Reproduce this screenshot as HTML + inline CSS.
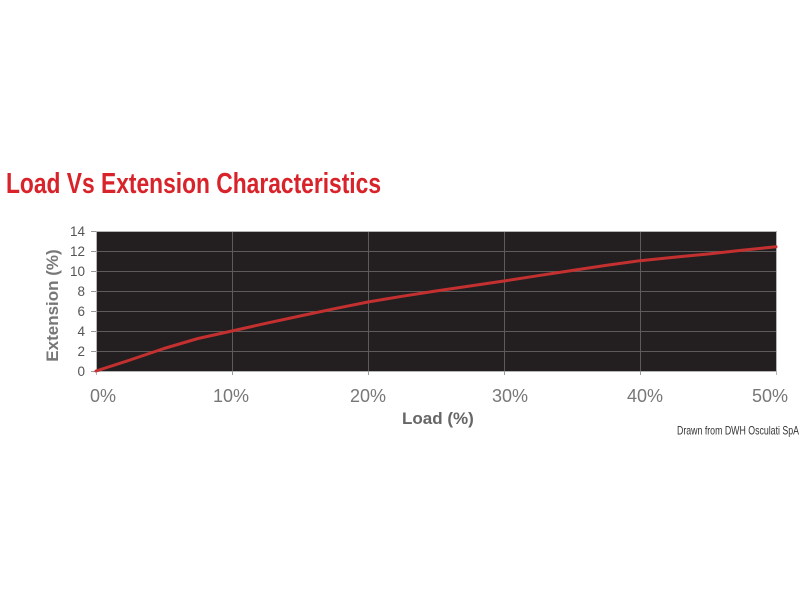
<!DOCTYPE html>
<html>
<head>
<meta charset="utf-8">
<style>
html,body{margin:0;padding:0;background:#fff;}
svg{display:block;}
text{font-family:"Liberation Sans",Arial,sans-serif;}
</style>
</head>
<body>
<svg width="800" height="600" viewBox="0 0 800 600" xmlns="http://www.w3.org/2000/svg">
<rect width="800" height="600" fill="#ffffff"/>
<text x="6" y="193" font-size="29" font-weight="bold" fill="#d9232b" textLength="375" lengthAdjust="spacingAndGlyphs">Load Vs Extension Characteristics</text>

<!-- plot area -->
<rect x="96" y="231" width="680" height="140" fill="#231f20"/>
<!-- horizontal grid -->
<g stroke="#5c5a5a" stroke-width="1">
<line x1="96" y1="251.5" x2="776" y2="251.5"/>
<line x1="96" y1="271.5" x2="776" y2="271.5"/>
<line x1="96" y1="291.5" x2="776" y2="291.5"/>
<line x1="96" y1="311.5" x2="776" y2="311.5"/>
<line x1="96" y1="331.5" x2="776" y2="331.5"/>
<line x1="96" y1="351.5" x2="776" y2="351.5"/>
<line x1="232.5" y1="231" x2="232.5" y2="371"/>
<line x1="368.5" y1="231" x2="368.5" y2="371"/>
<line x1="504.5" y1="231" x2="504.5" y2="371"/>
<line x1="640.5" y1="231" x2="640.5" y2="371"/>
</g>
<!-- border -->
<g stroke="#b5b5b5" stroke-width="1" fill="none">
<line x1="96" y1="231.5" x2="776.5" y2="231.5"/>
<line x1="776.5" y1="231" x2="776.5" y2="375"/>
<line x1="96" y1="371.5" x2="777" y2="371.5"/>
<line x1="96.5" y1="231" x2="96.5" y2="375"/>
</g>
<!-- y ticks -->
<g stroke="#999" stroke-width="1">
<line x1="91" y1="231.5" x2="96" y2="231.5"/>
<line x1="91" y1="251.5" x2="96" y2="251.5"/>
<line x1="91" y1="271.5" x2="96" y2="271.5"/>
<line x1="91" y1="291.5" x2="96" y2="291.5"/>
<line x1="91" y1="311.5" x2="96" y2="311.5"/>
<line x1="91" y1="331.5" x2="96" y2="331.5"/>
<line x1="91" y1="351.5" x2="96" y2="351.5"/>
<line x1="91" y1="371.5" x2="96" y2="371.5"/>
<line x1="232.5" y1="371" x2="232.5" y2="375"/>
<line x1="368.5" y1="371" x2="368.5" y2="375"/>
<line x1="504.5" y1="371" x2="504.5" y2="375"/>
<line x1="640.5" y1="371" x2="640.5" y2="375"/>
</g>
<!-- curve -->
<polyline fill="none" stroke="#c4302f" stroke-width="3" stroke-linejoin="round" stroke-linecap="round"
points="96,371 130,360 164,348.5 198,338.5 232,331 266,323.3 300,316 334,308.8 368,302 402,296.3 436,291 470,286 504,281 538,275.7 572,270.5 606,265.4 640,260.7 674,257.2 708,254 742,250.3 776,246.7"/>

<!-- y tick labels -->
<g font-size="13.5" fill="#555" text-anchor="end">
<text x="85" y="236">14</text>
<text x="85" y="256">12</text>
<text x="85" y="276">10</text>
<text x="85" y="296">8</text>
<text x="85" y="316">6</text>
<text x="85" y="336">4</text>
<text x="85" y="356">2</text>
<text x="85" y="376">0</text>
</g>
<text transform="translate(58,305.5) rotate(-90)" text-anchor="middle" font-size="17" font-weight="bold" fill="#777">Extension (%)</text>

<!-- x tick labels -->
<g font-size="18" fill="#777" text-anchor="middle">
<text x="103" y="402">0%</text>
<text x="231" y="402">10%</text>
<text x="368" y="402">20%</text>
<text x="510" y="402">30%</text>
<text x="645" y="402">40%</text>
<text x="770" y="402">50%</text>
</g>
<text x="402" y="424" font-size="17" font-weight="bold" fill="#666">Load (%)</text>
<text x="677" y="434.5" font-size="12" fill="#333" textLength="122" lengthAdjust="spacingAndGlyphs">Drawn from DWH Osculati SpA</text>
</svg>
</body>
</html>
